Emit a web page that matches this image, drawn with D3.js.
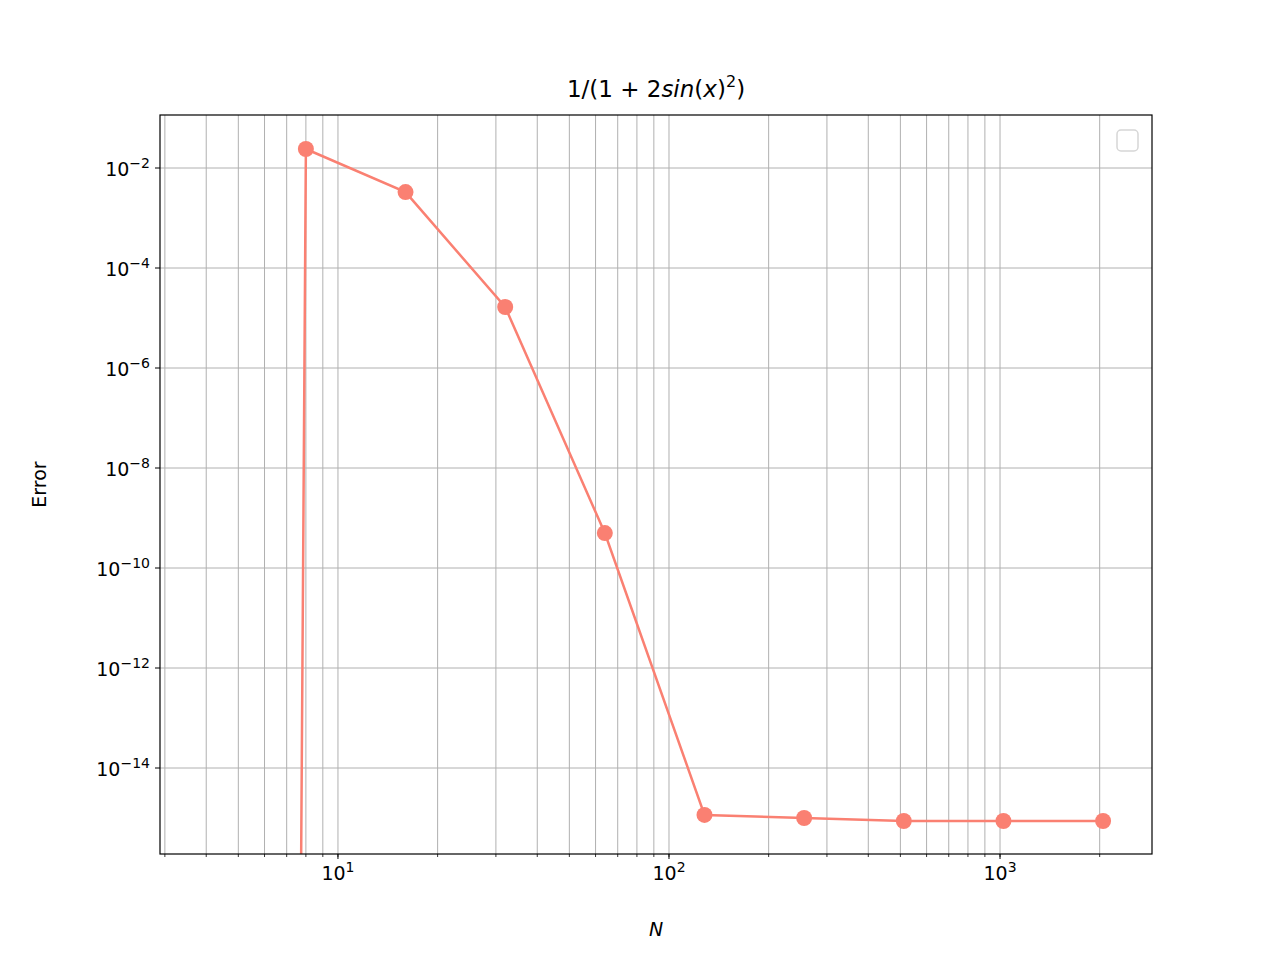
<!DOCTYPE html>
<html><head><meta charset="utf-8">
<script src="https://cdn.jsdelivr.net/npm/d3@7"></script>
<style>body{margin:0;background:#fff}text{font-family:"DejaVu Sans",sans-serif}</style>
</head><body><svg width="1280" height="960"></svg>
<script>
// N values and errors (0 = exact, clipped like matplotlib)
let nValues = [4, 8, 16, 32, 64, 128, 256, 512, 1024, 2048];
let errValues = [0, 0.024, 3.3e-3, 1.66e-5, 5e-10, 1.15e-15, 1.0e-15, 8.7e-16, 8.7e-16, 8.7e-16];
let yTickExps = [-14, -12, -10, -8, -6, -4, -2];
let xTickExps = [1, 2, 3];

let plotLeft = 160, plotRight = 1152, plotTop = 115, plotBottom = 854;
let svg = d3.select("svg");

let x = d3.scaleLog().domain([2.9, 2878]).range([plotLeft, plotRight]);
let y = d3.scaleLog().domain([Math.pow(10, -15.72), Math.pow(10, -0.94)]).range([plotBottom, plotTop]);

// minor x grid + ticks
let minorX = [];
for (let d = 0; d <= 3; d++) for (let m = 1; m < 10; m++) {
  let v = m * Math.pow(10, d);
  if (v >= 2.9 && v <= 2878) minorX.push(v);
}
svg.append("g").selectAll("line").data(minorX).enter().append("line")
  .attr("x1", d => x(d)).attr("x2", d => x(d)).attr("y1", plotTop).attr("y2", plotBottom)
  .attr("stroke", "#b0b0b0").attr("stroke-width", 1);
svg.append("g").selectAll("line").data(minorX).enter().append("line")
  .attr("x1", d => x(d)).attr("x2", d => x(d)).attr("y1", plotBottom).attr("y2", plotBottom + 3)
  .attr("stroke", "#000").attr("stroke-width", 0.8);
svg.append("g").selectAll("line").data(xTickExps).enter().append("line")
  .attr("x1", d => x(Math.pow(10, d))).attr("x2", d => x(Math.pow(10, d))).attr("y1", plotBottom).attr("y2", plotBottom + 5)
  .attr("stroke", "#000").attr("stroke-width", 1);

// y grid
svg.append("g").selectAll("line").data(yTickExps).enter().append("line")
  .attr("x1", plotLeft).attr("x2", plotRight).attr("y1", d => y(Math.pow(10, d))).attr("y2", d => y(Math.pow(10, d)))
  .attr("stroke", "#b0b0b0").attr("stroke-width", 1);
svg.append("g").selectAll("line").data(yTickExps).enter().append("line")
  .attr("x1", plotLeft - 5).attr("x2", plotLeft).attr("y1", d => y(Math.pow(10, d))).attr("y2", d => y(Math.pow(10, d)))
  .attr("stroke", "#000").attr("stroke-width", 1);

// tick labels
let xl = svg.append("g").selectAll("text").data(xTickExps).enter().append("text")
  .attr("x", d => x(Math.pow(10, d))).attr("y", plotBottom + 26).attr("text-anchor", "middle").attr("font-size", 19);
xl.append("tspan").text("10");
xl.append("tspan").attr("dy", -8).attr("font-size", 14).text(d => d);
let yl = svg.append("g").selectAll("text").data(yTickExps).enter().append("text")
  .attr("x", plotLeft - 10).attr("y", d => y(Math.pow(10, d)) + 8).attr("text-anchor", "end").attr("font-size", 19);
yl.append("tspan").text("10");
yl.append("tspan").attr("dy", -8).attr("font-size", 14).text(d => "\u2212" + (-d));

// data line, clipped
svg.append("clipPath").attr("id", "clip").append("rect")
  .attr("x", plotLeft).attr("y", plotTop).attr("width", plotRight - plotLeft).attr("height", plotBottom - plotTop);
let pts = nValues.map((n, i) => [n, errValues[i] > 0 ? errValues[i] : 1e-300]);
let line = d3.line().x(d => x(d[0])).y(d => y(d[1]));
let plot = svg.append("g").attr("clip-path", "url(#clip)");
plot.append("path").attr("d", line(pts)).attr("fill", "none")
  .attr("stroke", "salmon").attr("stroke-width", 2.5);
plot.selectAll("circle").data(pts.filter(d => d[1] > 1e-100)).enter().append("circle")
  .attr("cx", d => x(d[0])).attr("cy", d => y(d[1])).attr("r", 8).attr("fill", "salmon");

// frame
svg.append("rect").attr("x", plotLeft).attr("y", plotTop).attr("width", plotRight - plotLeft).attr("height", plotBottom - plotTop)
  .attr("fill", "none").attr("stroke", "#000").attr("stroke-width", 1.2);

// empty legend
svg.append("rect").attr("x", 1117).attr("y", 130).attr("width", 21).attr("height", 21).attr("rx", 4)
  .attr("fill", "#fff").attr("fill-opacity", 0.8).attr("stroke", "#d6d6d6").attr("stroke-width", 1.5);

// labels
let t = svg.append("text").attr("x", (plotLeft + plotRight) / 2).attr("y", 97).attr("text-anchor", "middle").attr("font-size", 23);
t.append("tspan").text("1/(1 + 2");
t.append("tspan").attr("font-style", "italic").text("sin");
t.append("tspan").text("(");
t.append("tspan").attr("font-style", "italic").text("x");
t.append("tspan").text(")");
t.append("tspan").attr("dy", -10).attr("font-size", 16).text("2");
t.append("tspan").attr("dy", 10).text(")");
svg.append("text").attr("x", (plotLeft + plotRight) / 2).attr("y", 936).attr("text-anchor", "middle")
  .attr("font-size", 19).attr("font-style", "italic").text("N");
svg.append("text").attr("transform", "translate(46," + (plotTop + plotBottom) / 2 + ") rotate(-90)")
  .attr("text-anchor", "middle").attr("font-size", 19).text("Error");
</script></body></html>
